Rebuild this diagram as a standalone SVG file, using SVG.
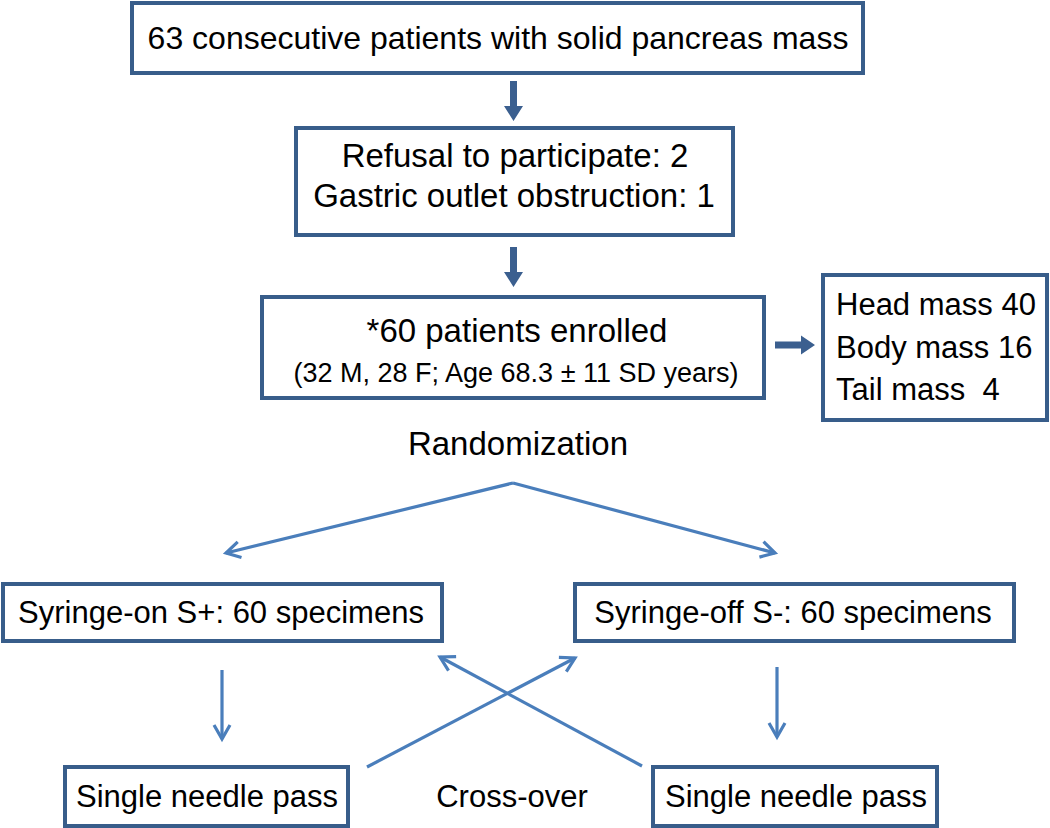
<svg xmlns="http://www.w3.org/2000/svg" width="1050" height="828" viewBox="0 0 1050 828">
<style>
.box{fill:#fff;stroke:#385d8a;stroke-width:4}
.t{font-family:"Liberation Sans",Arial,sans-serif;fill:#000;text-anchor:middle}
.thick{fill:#3b5f8f}
.thin{stroke:#4a7ebb;stroke-width:3.2;fill:none}
</style>
<defs>
<marker id="chev" markerUnits="userSpaceOnUse" markerWidth="24" markerHeight="24" viewBox="0 0 24 24" refX="20" refY="12" orient="auto">
<path d="M6,4 L20,12 L6,20" fill="none" stroke="#4a7ebb" stroke-width="3.2"/>
</marker>
</defs>
<g id="connectors">
<path class="thick" d="M510,81 h7 v25 h6 l-9.5,15 l-9.5,-15 h6 z"/>
<path class="thick" d="M510,247 h7 v25 h6 l-9.5,15 l-9.5,-15 h6 z"/>
<path class="thick" d="M775,341.5 h26 v-6 l14,9.5 l-14,9.5 v-6 h-26 z"/>
<line class="thin" x1="513" y1="483" x2="226" y2="553" marker-end="url(#chev)"/>
<line class="thin" x1="513" y1="483" x2="775" y2="553" marker-end="url(#chev)"/>
<line class="thin" x1="222" y1="670" x2="222" y2="739" marker-end="url(#chev)"/>
<line class="thin" x1="777" y1="667" x2="777" y2="737" marker-end="url(#chev)"/>
<line class="thin" x1="367" y1="767" x2="575" y2="658" marker-end="url(#chev)"/>
<line class="thin" x1="642" y1="766" x2="440" y2="657" marker-end="url(#chev)"/>
</g>
<g id="n1">
<rect class="box" x="132" y="3" width="731" height="70"/>
<text class="t" style="font-size:32px" x="498" y="49">63 consecutive patients with solid pancreas mass</text>
</g>
<g id="n2">
<rect class="box" x="296" y="128" width="437" height="107"/>
<text class="t" style="font-size:33px" x="515" y="167">Refusal to participate: 2</text>
<text class="t" style="font-size:33px" x="514" y="207">Gastric outlet obstruction: 1</text>
</g>
<g id="n3">
<rect class="box" x="262" y="297" width="502" height="101"/>
<text class="t" style="font-size:33px" x="517" y="342">*60 patients enrolled</text>
<text class="t" style="font-size:27px" x="516" y="382">(32 M, 28 F; Age 68.3 ± 11 SD years)</text>
</g>
<g id="n4">
<rect class="box" x="823" y="275" width="224" height="145"/>
<text class="t" x="836" y="315" style="font-size:31px;text-anchor:start">Head mass 40</text>
<text class="t" x="836" y="358" style="font-size:31px;text-anchor:start">Body mass 16</text>
<text class="t" x="836" y="400" style="font-size:31px;text-anchor:start" xml:space="preserve">Tail mass  4</text>
</g>
<g id="n5">
<text class="t" style="font-size:33px" x="518" y="455">Randomization</text>
</g>
<g id="n6">
<rect class="box" x="3" y="584" width="439" height="57"/>
<text class="t" style="font-size:31px" x="221" y="623">Syringe-on S+: 60 specimens</text>
</g>
<g id="n7">
<rect class="box" x="575" y="584" width="439" height="57"/>
<text class="t" style="font-size:31px" x="793" y="623">Syringe-off S-: 60 specimens</text>
</g>
<g id="n8">
<rect class="box" x="65" y="767" width="283" height="59"/>
<text class="t" style="font-size:31px" x="207" y="807">Single needle pass</text>
</g>
<g id="n9">
<text class="t" style="font-size:31px" x="512" y="807">Cross-over</text>
</g>
<g id="n10">
<rect class="box" x="653" y="767" width="284" height="59"/>
<text class="t" style="font-size:31px" x="796" y="807">Single needle pass</text>
</g>
</svg>
